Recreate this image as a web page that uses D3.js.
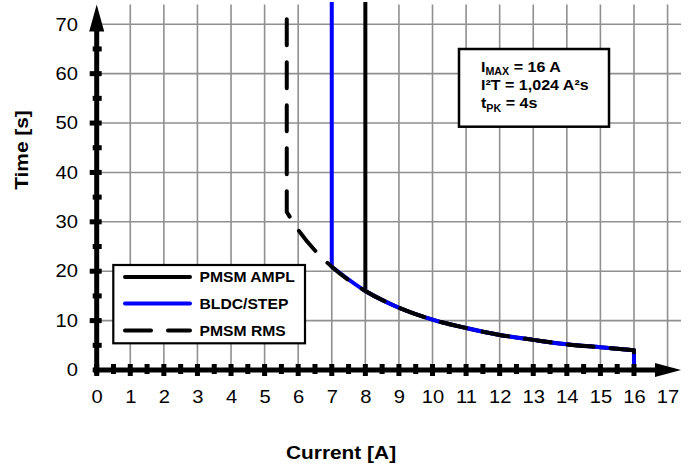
<!DOCTYPE html>
<html>
<head>
<meta charset="utf-8">
<script src="https://cdn.jsdelivr.net/npm/d3@7"></script>
<style>
  body { margin: 0; background: #fff; }
  text { font-family: "Liberation Sans", Arial, sans-serif; fill: #000; }
</style>
</head>
<body>
<div id="chart"></div>
<script>
const currentTicks = [0, 1, 2, 3, 4, 5, 6, 7, 8, 9, 10, 11, 12, 13, 14, 15, 16, 17];
const timeTicks = [0, 10, 20, 30, 40, 50, 60, 70];
const curveCurrent = [7, 8, 9, 10, 11, 12, 13, 14, 15, 16];
const curveTime = [20.9, 16, 12.6, 10.2, 8.5, 7.1, 6.1, 5.2, 4.6, 4];
const rmsCurrent = [5.66, 6, 6.5];
const rmsTime = [32, 28.4, 24.2];
const seriesNames = ['PMSM AMPL', 'BLDC/STEP', 'PMSM RMS'];
const seriesColors = ['#000000', '#0000ff', '#000000'];
const seriesLimit = [8, 7, 5.66];      // verticale grens in A
const seriesTop = [74.5, 74.5, 71];    // bovenkant van de verticale lijn
const seriesDash = [null, null, '26,17'];

const width = 697;
const height = 468;

const svg = d3.select('#chart')
  .append('svg')
  .attr('width', width)
  .attr('height', height);

const x = d3.scaleLinear().domain([0, 17.4]).range([96.7, 681]);
const y = d3.scaleLinear().domain([0, 74]).range([370, 4.5]);

//grid als een pad
const gridPath = d3.path();
currentTicks.slice(1).forEach(d => {
  gridPath.moveTo(x(d), y(0));
  gridPath.lineTo(x(d), y(74));
});
timeTicks.slice(1).forEach(d => {
  gridPath.moveTo(x(0), y(d));
  gridPath.lineTo(x(17.4), y(d));
});
svg.append('path')
  .attr('class', 'grid')
  .attr('d', gridPath.toString())
  .attr('fill', 'none')
  .attr('stroke', '#909090')
  .attr('stroke-width', 1.6);

//series
const curvePts = curveCurrent.map((c, i) => [c, curveTime[i]]);
const rmsPts = rmsCurrent.map((c, i) => [c, rmsTime[i]]);

const lin = d3.line().x(d => x(d[0])).y(d => y(d[1]));
const smooth = d3.line().x(d => x(d[0])).y(d => y(d[1])).curve(d3.curveMonotoneX);

function seriesPath(i) {
  let pts;
  if (i === 2) pts = rmsPts.concat(curvePts);
  else pts = curvePts.filter(p => p[0] >= seriesLimit[i]);
  const first = pts[0];
  const last = pts[pts.length - 1];
  return lin([[seriesLimit[i], seriesTop[i]], first])
    + smooth(pts).replace(/^M/, 'L')
    + lin([last, [last[0], 0]]).replace(/^M/, 'L');
}

svg.append('g')
  .selectAll('path')
  .data(seriesNames)
  .join('path')
  .attr('d', (d, i) => seriesPath(i))
  .attr('fill', 'none')
  .attr('stroke', (d, i) => seriesColors[i])
  .attr('stroke-width', 4)
  .attr('stroke-linecap', (d, i) => seriesDash[i] ? 'round' : 'butt')
  .attr('stroke-linejoin', 'round')
  .attr('stroke-dasharray', (d, i) => seriesDash[i]);

//assen
const axisG = svg.append('g');
axisG.append('line')
  .attr('x1', x(0) - 4).attr('x2', x(17.4) - 20)
  .attr('y1', y(0)).attr('y2', y(0))
  .attr('stroke', '#000').attr('stroke-width', 5);
axisG.append('line')
  .attr('x1', x(0)).attr('x2', x(0))
  .attr('y1', y(0) + 4).attr('y2', y(74) + 20)
  .attr('stroke', '#000').attr('stroke-width', 5);

// pijlpunten
axisG.append('path')
  .attr('d', `M${x(17.4)},${y(0)} L${x(17.4) - 26},${y(0) - 7} L${x(17.4) - 26},${y(0) + 7} Z`)
  .attr('fill', '#000');
axisG.append('path')
  .attr('d', `M${x(0)},${y(74)} L${x(0) - 7.5},${y(74) + 27} L${x(0) + 7.5},${y(74) + 27} Z`)
  .attr('fill', '#000');

// blokjes op de assen
const xMinor = d3.range(0.5, 16, 1);
const yMinor = [5, 15, 25, 35, 45, 55, 65];
axisG.selectAll('.xmaj')
  .data(currentTicks.slice(0, 17))
  .join('rect')
  .attr('class', 'xmaj')
  .attr('x', d => x(d) - 2.5).attr('y', y(0) - 6)
  .attr('width', 5).attr('height', 12);
axisG.selectAll('.xmin')
  .data(xMinor)
  .join('rect')
  .attr('class', 'xmin')
  .attr('x', d => x(d) - 2.5).attr('y', y(0) - 6)
  .attr('width', 5).attr('height', 10);
axisG.selectAll('.ymaj')
  .data(timeTicks.slice(1, 7))
  .join('rect')
  .attr('class', 'ymaj')
  .attr('x', x(0) - 7).attr('y', d => y(d) - 2.5)
  .attr('width', 12).attr('height', 5);
axisG.selectAll('.ymin')
  .data(yMinor)
  .join('rect')
  .attr('class', 'ymin')
  .attr('x', x(0) - 4).attr('y', d => y(d) - 2.5)
  .attr('width', 9).attr('height', 5);

// labels
function xAxis(g) {
  g.attr('transform', `translate(0, ${y(0)})`)
    .call(d3.axisBottom(x).tickValues(currentTicks).tickSize(0).tickPadding(20))
    .call(g => g.select('.domain').remove())
    .selectAll('text')
    .style('font-size', '18px')
    .style('font-family', '"Liberation Sans", Arial, sans-serif')
    .attr('fill', '#000')
    .attr('transform', 'scale(1.12,1)');
}

function yAxis(g) {
  g.attr('transform', `translate(${x(0)},0)`)
    .call(d3.axisLeft(y).tickValues(timeTicks).tickSize(0))
    .call(g => g.select('.domain').remove())
    .selectAll('text')
    .style('font-size', '18px')
    .style('font-family', '"Liberation Sans", Arial, sans-serif')
    .attr('fill', '#000')
    .attr('x', -18.7 / 1.12)
    .attr('transform', 'scale(1.12,1)');
}

svg.append('g').call(xAxis);
svg.append('g').call(yAxis);

// as titels
svg.append('text')
  .attr('transform', 'translate(28,150) rotate(-90) scale(1.16,1)')
  .attr('text-anchor', 'middle')
  .style('font-size', '18px').style('font-weight', 'bold')
  .text('Time [s]');
svg.append('text')
  .attr('transform', 'translate(341,459) scale(1.16,1)')
  .attr('text-anchor', 'middle')
  .style('font-size', '18px').style('font-weight', 'bold')
  .text('Current [A]');

// legenda
const legend = svg.append('g');
legend.append('rect')
  .attr('x', 113.3).attr('y', 265).attr('width', 191.7).attr('height', 78.3)
  .attr('fill', '#fff').attr('stroke', '#000').attr('stroke-width', 2.2);
const rows = legend.selectAll('g')
  .data(seriesNames)
  .join('g')
  .attr('transform', (d, i) => `translate(0, ${[277, 303.5, 330.5][i]})`);
rows.append('line')
  .attr('x1', 125).attr('x2', 190)
  .attr('stroke', (d, i) => seriesColors[i])
  .attr('stroke-width', 4)
  .attr('stroke-linecap', 'round')
  .attr('stroke-dasharray', (d, i) => seriesDash[i]);
rows.append('text')
  .attr('transform', 'translate(199.5, 5.3) scale(1.12,1)')
  .style('font-size', '14px').style('font-weight', 'bold')
  .text(d => d);

// info blok
const info = svg.append('g');
info.append('rect')
  .attr('x', 459).attr('y', 49).attr('width', 150).attr('height', 77.7)
  .attr('fill', '#fff').attr('stroke', '#000').attr('stroke-width', 2.5);

const t1 = info.append('text')
  .attr('transform', 'translate(481, 72.3) scale(1.07,1)')
  .style('font-size', '15px').style('font-weight', 'bold');
t1.append('tspan').text('I');
t1.append('tspan').attr('dy', 2.5).style('font-size', '10px').text('MAX');
t1.append('tspan').attr('dy', -2.5).text(' = 16 A');

info.append('text')
  .attr('transform', 'translate(481, 89.8) scale(1.07,1)')
  .style('font-size', '15px').style('font-weight', 'bold')
  .text('I²T = 1,024 A²s');

const t3 = info.append('text')
  .attr('transform', 'translate(481, 108.3) scale(1.07,1)')
  .style('font-size', '15px').style('font-weight', 'bold');
t3.append('tspan').text('t');
t3.append('tspan').attr('dy', 3.4).style('font-size', '10px').text('PK');
t3.append('tspan').attr('dy', -3.4).text(' = 4s');
</script>
</body>
</html>
